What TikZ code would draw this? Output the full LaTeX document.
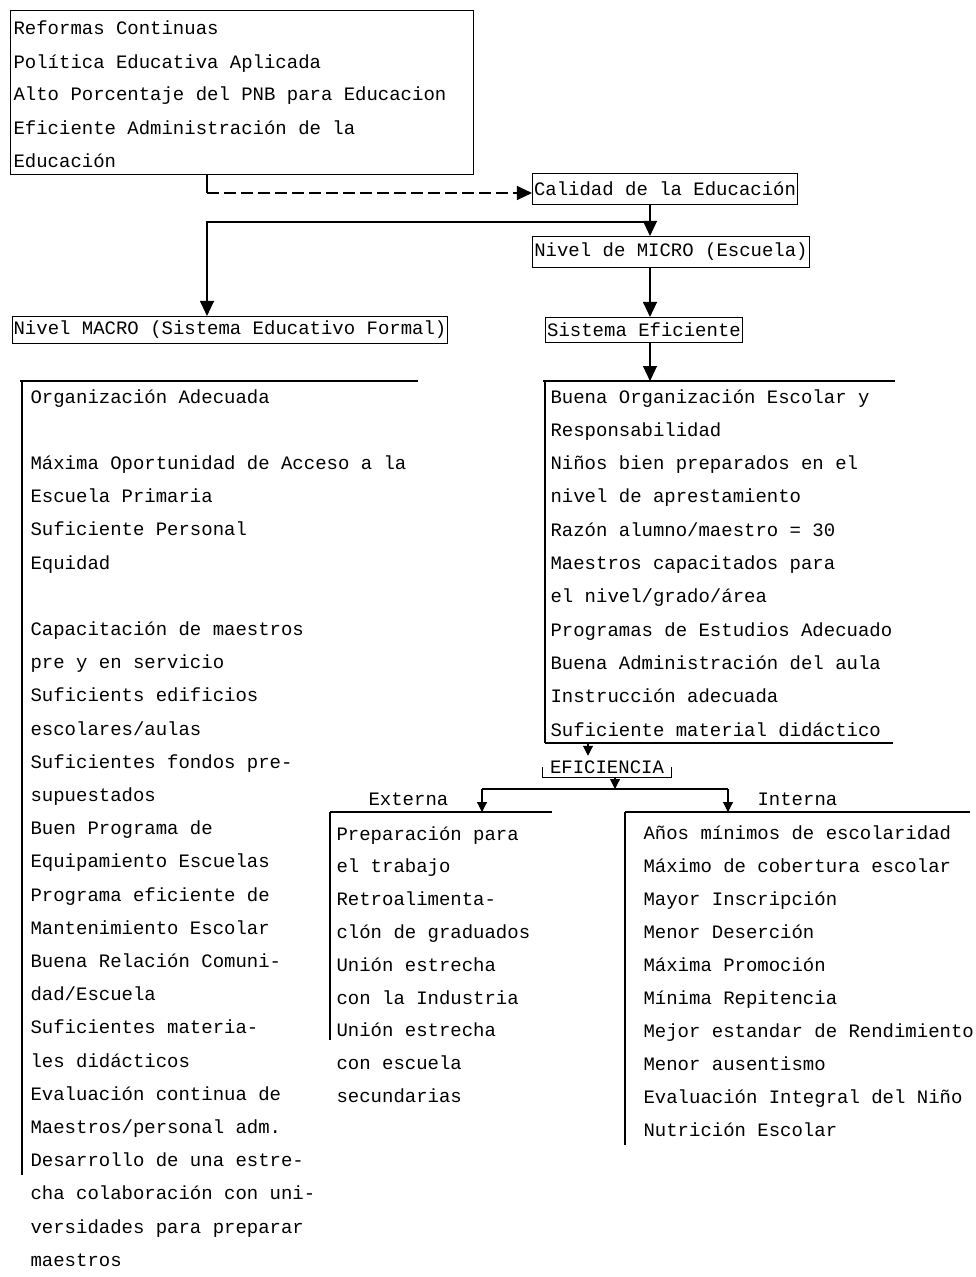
\documentclass[tikz,border=0pt]{standalone}
\usepackage{fontspec}
\newfontfamily\tw{Liberation Mono}
\usetikzlibrary{arrows.meta}
\newdimen\pix
\pix=0.25mm

\begin{document}
\begin{tikzpicture}[x=0.25mm,y=-0.25mm,line width=0.8pt,
txt/.style={font=\tw\fontsize{13.5pt}{16pt}\selectfont,inner sep=0pt,anchor=base west},
box/.style={draw,font=\tw\fontsize{13.5pt}{16pt}\selectfont,inner xsep=1.5\pix,inner ysep=0pt,minimum height=31\pix},
arr/.style={-{Triangle[length=3.75mm,width=3.5mm]}},
sarr/.style={-{Triangle[length=2.5mm,width=2.5mm]}},
bar/.style={line width=1.4pt}]
\useasboundingbox (0,0) rectangle (975,1277);

% aims
\node (aims) [draw,anchor=north west,inner sep=0pt,
    minimum width=463\pix,minimum height=164\pix] at (10,10) {};
\foreach \t [count=\i from 0] in {Reformas Continuas,Política Educativa Aplicada,
    Alto Porcentaje del PNB para Educacion,Eficiente Administración de la,Educación}
  \node (a\i) [txt] at (13,35+\i*33) {\t};

\node (cal) [box] at (665,189) {Calidad de la Educación};
\node (micro) [box] at (671,252) {Nivel de MICRO (Escuela)};
\node (sis) [box,minimum height=25\pix] at (644,330) {Sistema Eficiente};
\node (macro) [box,minimum height=27\pix] at (230,330) {Nivel MACRO (Sistema Educativo Formal)};

\coordinate (d) at (207,193);
\coordinate (sp) at (650,0);
\coordinate (br) at (650,222);
\coordinate (stop) at (650,381);
\draw (aims.south -| d) -- (d);
\draw[arr,dash pattern=on 3mm off 1.25mm] (d) -- (cal.west |- d);
\draw[arr] (cal.south -| sp) -- (micro.north -| sp);
\draw[arr] (br) -| (macro.north -| d);
\draw[arr] (micro.south -| sp) -- (sis.north -| sp);
\draw[arr] (sis.south -| sp) -- (stop);

% macro list
\draw (20,381) -- (418,381);
\draw[bar] (22,381) -- (22,1175);
\foreach \t [count=\i from 0] in {Organización Adecuada,{},
    Máxima Oportunidad de Acceso a la,Escuela Primaria,Suficiente Personal,Equidad,{},
    Capacitación de maestros,pre y en servicio,Suficients edificios,escolares/aulas,
    Suficientes fondos pre-,supuestados,Buen Programa de,Equipamiento Escuelas,
    Programa eficiente de,Mantenimiento Escolar,Buena Relación Comuni-,dad/Escuela,
    Suficientes materia-,les didácticos,Evaluación continua de,Maestros/personal adm.,
    Desarrollo de una estre-,cha colaboración con uni-,versidades para preparar,maestros}
  \node (m\i) [txt] at (30,403+\i*33.2) {\t};

% micro list
\draw (895,381) -- (543,381);
\draw[bar] (545,381) -- (545,743);
\draw (545,743) -- (893,743);
\foreach \t [count=\i from 0] in {Buena Organización Escolar y,Responsabilidad,
    Niños bien preparados en el,nivel de aprestamiento,Razón alumno/maestro = 30,
    Maestros capacitados para,el nivel/grado/área,Programas de Estudios Adecuado,
    Buena Administración del aula,Instrucción adecuada,Suficiente material didáctico}
  \node (s\i) [txt] at (550,403+\i*33.3) {\t};

% eficiencia
\node (efi) [txt,anchor=base,inner xsep=7\pix,inner ysep=4\pix] at (607,773) {EFICIENCIA};
\draw (efi.west) -- (efi.south west) -- (efi.south east) -- (efi.east);
\coordinate (e1) at (588,743);
\coordinate (ebr) at (615,789);
\coordinate (exb) at (482,789);
\coordinate (inb) at (728,789);
\coordinate (extop) at (482,812);
\coordinate (intop) at (728,812);
\draw[sarr] (e1) -- (e1 |- efi.north);
\draw[sarr] (efi.south -| ebr) -- (ebr);
\draw (exb) -- (inb);
\draw[sarr] (exb) -- (extop);
\draw[sarr] (inb) -- (intop);
\node (ext) [txt] at (368,805) {Externa};
\node (int) [txt] at (757,805) {Interna};

% externa list
\draw (552,812) -- (330,812);
\draw[bar] (330,812) -- (330,1040);
\foreach \t [count=\i from 0] in {Preparación para,el trabajo,Retroalimenta-,
    clón de graduados,Unión estrecha,con la Industria,Unión estrecha,con escuela,secundarias}
  \node (x\i) [txt] at (336,840+\i*32.8) {\t};

% interna list
\draw (970,812) -- (625,812);
\draw (625,812) -- (625,1145);
\foreach \t [count=\i from 0] in {Años mínimos de escolaridad,Máximo de cobertura escolar,
    Mayor Inscripción,Menor Deserción,Máxima Promoción,Mínima Repitencia,
    Mejor estandar de Rendimiento,Menor ausentismo,Evaluación Integral del Niño,Nutrición Escolar}
  \node (n\i) [txt] at (643,839+\i*33.1) {\t};
\end{tikzpicture}
\end{document}
